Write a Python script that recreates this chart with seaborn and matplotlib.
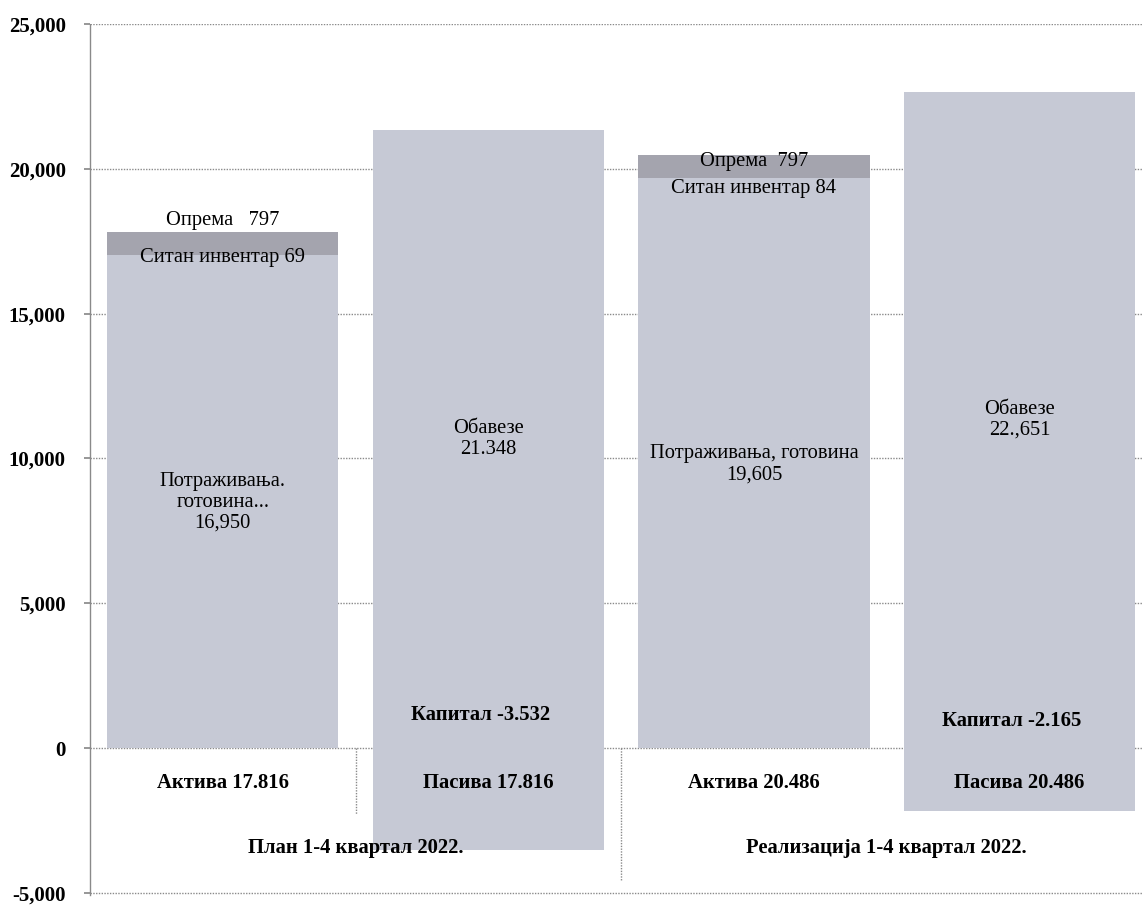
import numpy as np
import pandas as pd
import seaborn as sns
import matplotlib.pyplot as plt
from matplotlib.ticker import FuncFormatter

sns.set_theme(style="white")
plt.rcParams['font.family'] = ['Liberation Serif', 'DejaVu Serif']
plt.rcParams['text.color'] = 'black'
plt.rcParams['ytick.color'] = 'black'

# Data
categories = ["Актива 17.816", "Пасива 17.816", "Актива 20.486", "Пасива 20.486"]
groups = ["План 1-4 квартал 2022.", "Реализација 1-4 квартал 2022."]
potrazivanja = [16950, 0, 19605, 0]
sitan_inventar = [69, 0, 84, 0]
oprema = [797, 0, 797, 0]
obaveze = [0, 21348, 0, 22651]
kapital = [0, -3532, 0, -2165]

main_labels = ["Потраживања.\nготовина...\n16,950", "Обавезе\n21.348",
               "Потраживања, готовина\n19,605", "Обавезе\n22.,651"]
kapital_labels = ["Капитал -3.532", "Капитал -2.165"]

light = "#c6c9d5"
dark = "#a4a4ae"
grid_col = "#8a8a8a"
dots = (0, (1, 1))

top3 = np.array(potrazivanja) + np.array(sitan_inventar) + np.array(oprema)
top2 = np.array(potrazivanja) + np.array(sitan_inventar)
base = np.array(potrazivanja) + np.array(obaveze)

fig = plt.figure(figsize=(11.42, 9.06), dpi=100)
ax = fig.add_axes([90 / 1142, 11 / 906, (1142 - 90) / 1142, 871 / 906])

# stacked bars drawn from the top of the stack down
bw = 0.87
sns.barplot(x=categories, y=top3, color=dark, width=bw, saturation=1, linewidth=0, ax=ax)
sns.barplot(x=categories, y=top2, color=light, width=bw, saturation=1, linewidth=0, ax=ax)
sns.barplot(x=categories, y=base, color=light, width=bw, saturation=1, linewidth=0, ax=ax)
sns.barplot(x=categories, y=kapital, color=light, width=bw, saturation=1, linewidth=0, ax=ax)

ax.set_xlim(-0.5, 3.461)
ax.set_ylim(-5070, 25000)
ax.set_yticks(np.arange(-5000, 25001, 5000))
ax.yaxis.set_major_formatter(FuncFormatter(lambda v, p: f"{v:,.0f}"))
ax.set_axisbelow(True)
ax.grid(axis='y', color=grid_col, linestyle=dots, linewidth=1)
ax.grid(axis='x', visible=False)
ax.set_xticks([])
ax.set_xlabel("")
ax.tick_params(axis='y', length=4.5, pad=13, color=grid_col, left=True, labelsize=15)
for lbl in ax.get_yticklabels():
    lbl.set_fontweight('bold')
for s in ['top', 'right', 'bottom']:
    ax.spines[s].set_visible(False)
ax.spines['left'].set_color(grid_col)
ax.spines['left'].set_linestyle(dots)
ax.spines['left'].set_linewidth(1)

# separators of the category axis
ax.plot([0.5, 0.5], [0, -2270], color=grid_col, linestyle=dots, linewidth=1)
ax.plot([1.5, 1.5], [0, -4600], color=grid_col, linestyle=dots, linewidth=1)

# category and group labels
for i, c in enumerate(categories):
    ax.text(i, -1200, c, ha='center', va='center', fontsize=14.9, fontweight='bold')
for g, name in enumerate(groups):
    ax.text(2 * g + 0.5, -3440, name, ha='center', va='center', fontsize=14.9, fontweight='bold')

# labels inside the bars
fs = 14.8
for i, lab in enumerate(main_labels):
    ax.text(i, base[i] / 2, lab, ha='center', va='center', fontsize=fs, linespacing=1.12)

ax.text(0, top3[0] + 400, f"Опрема   {oprema[0]}", ha='center', va='center', fontsize=fs)
ax.text(2, top3[2] - 250, f"Опрема  {oprema[2]}", ha='center', va='center', fontsize=fs)
ax.text(0, potrazivanja[0], f"Ситан инвентар {sitan_inventar[0]}", ha='center', va='center', fontsize=fs)
ax.text(2, potrazivanja[2] - 300, f"Ситан инвентар {sitan_inventar[2]}", ha='center', va='center', fontsize=fs)

ax.text(0.97, 1150, kapital_labels[0], ha='center', va='center', fontsize=14.9, fontweight='bold')
ax.text(2.97, 930, kapital_labels[1], ha='center', va='center', fontsize=14.9, fontweight='bold')

fig.savefig("out.png", dpi=100)
